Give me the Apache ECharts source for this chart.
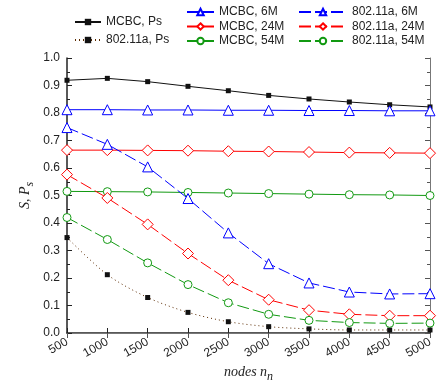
<!DOCTYPE html>
<html>
<head>
<meta charset="utf-8">
<script src="https://cdn.jsdelivr.net/npm/echarts@6/dist/echarts.min.js"></script>
<style>
  html, body { margin: 0; padding: 0; background: #fff; }
  #chart { width: 442px; height: 383px; }
</style>
</head>
<body>
<div id="chart"></div>
<script>
const nodes = [500, 1000, 1500, 2000, 2500, 3000, 3500, 4000, 4500, 5000];
const mcbcPs = [0.919, 0.926, 0.914, 0.897, 0.881, 0.864, 0.851, 0.840, 0.830, 0.822];
const wifiPs = [0.347, 0.212, 0.129, 0.075, 0.041, 0.023, 0.015, 0.011, 0.011, 0.011];
const mcbc6 = [0.812, 0.812, 0.811, 0.811, 0.810, 0.810, 0.809, 0.809, 0.808, 0.808];
const mcbc24 = [0.665, 0.665, 0.664, 0.663, 0.661, 0.660, 0.658, 0.656, 0.655, 0.654];
const mcbc54 = [0.515, 0.514, 0.513, 0.511, 0.509, 0.507, 0.505, 0.503, 0.502, 0.500];
const wifi6 = [0.747, 0.686, 0.604, 0.489, 0.364, 0.252, 0.182, 0.149, 0.142, 0.143];
const wifi24 = [0.576, 0.491, 0.395, 0.289, 0.192, 0.121, 0.083, 0.068, 0.063, 0.063];
const wifi54 = [0.420, 0.340, 0.255, 0.176, 0.110, 0.068, 0.046, 0.038, 0.035, 0.036];

const pairs = (ys) => nodes.map((x, i) => [x, ys[i]]);

var echart = echarts.init(document.getElementById("chart"));
const font = "Liberation Sans, Arial, sans-serif";
const serif = "Liberation Serif, Times New Roman, serif";
const blue = "#0000ff", red = "#ff0000", green = "#119911";
const dash = [12, 4];

function series(name, data, color, symbol, size, dashed) {
  return {
    name: name,
    type: "line",
    data: pairs(data),
    symbol: symbol,
    symbolSize: size,
    showAllSymbol: true,
    lineStyle: { color: color, width: 1, type: dashed ? dash : "solid" },
    itemStyle: { color: "#fff", borderColor: color, borderWidth: 1 },
    emphasis: { disabled: true },
  };
}

const legendText = { fontFamily: font, fontSize: 12, color: "#222" };

const option = {
  animation: false,
  legend: [
    {
      left: 74, top: 16, padding: 0, orient: "vertical", itemWidth: 26, itemHeight: 8, itemGap: 6,
      textStyle: legendText, data: ["MCBC, Ps", "802.11a, Ps"],
    },
    {
      left: 186, top: 6, padding: 0, orient: "vertical", itemWidth: 27, itemHeight: 8, itemGap: 2.5,
      textStyle: legendText, data: ["MCBC, 6M", "MCBC, 24M", "MCBC, 54M"],
    },
    {
      left: 298, top: 6, padding: 0, orient: "vertical", itemWidth: 48, itemHeight: 8, itemGap: 2.5,
      textStyle: legendText, data: ["802.11a, 6M", "802.11a, 24M", "802.11a, 54M"],
    },
  ],
  grid: { left: 67, right: 12, top: 58, bottom: 50, outerBoundsMode: "none", containLabel: false },
  xAxis: [
    {
      type: "value", min: 500, max: 5000, interval: 500,
      name: "{a|nodes n}{b|n}", nameLocation: "middle", nameGap: 28, nameMoveOverlap: false,
      nameTextStyle: {
        rich: {
          a: { fontFamily: serif, fontStyle: "italic", fontSize: 14, color: "#222" },
          b: { fontFamily: serif, fontStyle: "italic", fontSize: 12, color: "#222", padding: [10, 0, 0, 0] },
        },
      },
      axisLine: { lineStyle: { color: "#222", width: 1.5 } },
      axisTick: { inside: true, length: 5, lineStyle: { color: "#222" } },
      axisLabel: {
        rotate: 30, fontFamily: font, fontSize: 12, color: "#222", margin: 8,
        formatter: (v) => String(v),
      },
      splitLine: { show: false },
    },
    {
      type: "value", min: 500, max: 5000, interval: 500, position: "top",
      axisLine: { lineStyle: { color: "#777", width: 1 } },
      axisTick: { inside: true, length: 5, lineStyle: { color: "#555" } },
      axisLabel: { show: false },
      splitLine: { show: false },
    },
  ],
  yAxis: [
    {
      type: "value", min: 0, max: 1, interval: 0.1,
      name: "{a|S, P}{b|s}", nameLocation: "middle", nameGap: 31, nameRotate: 90, nameMoveOverlap: false,
      nameTextStyle: {
        rich: {
          a: { fontFamily: serif, fontStyle: "italic", fontSize: 14, color: "#222" },
          b: { fontFamily: serif, fontStyle: "italic", fontSize: 12, color: "#222", padding: [10, 0, 0, 0] },
        },
      },
      axisLine: { show: true, lineStyle: { color: "#222", width: 1.5 } },
      axisTick: { show: true, inside: true, length: 5, lineStyle: { color: "#222" } },
      minorTick: { show: true, splitNumber: 2, length: 3, lineStyle: { color: "#222" } },
      axisLabel: {
        fontFamily: font, fontSize: 12, color: "#222", margin: 7,
        formatter: (v) => v.toFixed(1),
      },
      splitLine: { show: false },
    },
    {
      type: "value", min: 0, max: 1, interval: 0.1, position: "right",
      axisLine: { show: true, lineStyle: { color: "#777", width: 1 } },
      axisTick: { show: true, inside: true, length: 5, lineStyle: { color: "#555" } },
      minorTick: { show: true, splitNumber: 2, length: 3, lineStyle: { color: "#555" } },
      axisLabel: { show: false },
      splitLine: { show: false },
    },
  ],
  series: [
    {
      name: "MCBC, Ps", type: "line", data: pairs(mcbcPs),
      symbol: "rect", symbolSize: 5,
      lineStyle: { color: "#111", width: 1 },
      itemStyle: { color: "#111" },
      emphasis: { disabled: true },
    },
    {
      name: "802.11a, Ps", type: "line", data: pairs(wifiPs), smooth: 0.3,
      symbol: "rect", symbolSize: 5,
      lineStyle: { color: "#5a2a00", width: 1, type: [1, 3] },
      itemStyle: { color: "#111" },
      emphasis: { disabled: true },
    },
    series("MCBC, 6M", mcbc6, blue, "triangle", 10, false),
    series("MCBC, 24M", mcbc24, red, "diamond", 11, false),
    series("MCBC, 54M", mcbc54, green, "circle", 8, false),
    series("802.11a, 6M", wifi6, blue, "triangle", 10, true),
    series("802.11a, 24M", wifi24, red, "diamond", 11, true),
    series("802.11a, 54M", wifi54, green, "circle", 8, true),
  ],
};
echart.setOption(option);
</script>
</body>
</html>
